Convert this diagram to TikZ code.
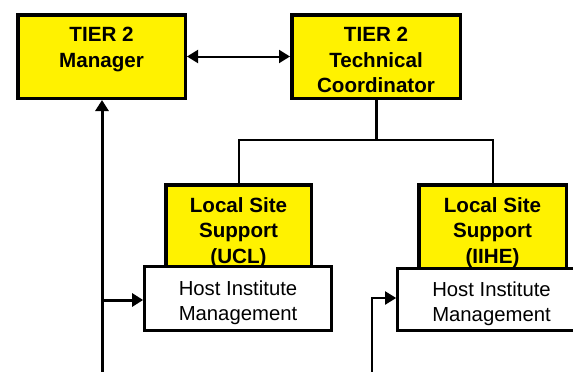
\documentclass[tikz,border=0pt]{standalone}
\usepackage{fontspec}
\setmainfont{Liberation Sans}
\usetikzlibrary{arrows.meta}
\begin{document}
\begin{tikzpicture}[x=1pt,y=-1pt,
  ybox/.style={draw=black,line width=3.5pt,fill=yellow,inner sep=0pt},
  wbox/.style={draw=black,line width=3.2pt,fill=white,inner sep=0pt},
  btext/.style={anchor=north,inner sep=0pt,align=center,font=\fontsize{20.6}{25.5}\selectfont\bfseries},
  rtext/.style={anchor=north,inner sep=0pt,align=center,font=\fontsize{20.3}{25}\selectfont},
  tip/.style={-{Triangle[length=11pt,width=13pt]}}
]
\useasboundingbox (0,0) rectangle (573,372);
\clip (0,0) rectangle (573,372);
% top boxes
\node[ybox,minimum width=167.5pt,minimum height=83.5pt] (mgr) at (101.5,56.5) {};
\node[btext] (mgrt) at (101.5,27) {TIER 2\\Manager};
\node[ybox,minimum width=168.5pt,minimum height=83.5pt] (tech) at (376,56.5) {};
\node[btext] (techt) at (376,27) {TIER 2\\Technical\\Coordinator};
% arrow between top boxes
\draw[line width=2pt,{Triangle[length=11pt,width=13pt]}-{Triangle[length=11pt,width=13pt]}] (mgr.east) -- (tech.west);
% tree
\coordinate (j) at (376,140);
\draw[line width=3pt] (tech.south) -- (j);
% local site boxes
\node[ybox,minimum width=145.5pt,minimum height=98pt] (lsA) at (238.5,233.9) {};
\node[btext] (lsAt) at (238.5,197) {Local Site\\Support\\(UCL)};
\node[ybox,minimum width=147.5pt,minimum height=98pt] (lsB) at (492.5,233.9) {};
\node[btext] (lsBt) at (492.5,197) {Local Site\\Support\\(IIHE)};
\draw[line width=2pt] (lsA.north) |- (j) -| (lsB.north);
% host boxes
\node[wbox,minimum width=186.5pt,minimum height=63.5pt] (hostA) at (238,298.5) {};
\node[rtext] (hostAt) at (238,281) {Host Institute\\Management};
\node[wbox,minimum width=190.5pt,minimum height=61.5pt] (hostB) at (493,299.5) {};
\node[rtext] (hostBt) at (491.5,281.5) {Host Institute\\Management};
% left long line
\coordinate (lb) at (102,380);
\draw[line width=3pt,tip] (lb) -- (lb |- mgr.south);
\draw[line width=3pt,tip] (lb |- 0,300) -- (hostA.west |- 0,300);
% right line
\coordinate (rb) at (372,380);
\draw[line width=2pt,tip] (rb) |- (hostB.west |- 0,298);
\end{tikzpicture}
\end{document}
